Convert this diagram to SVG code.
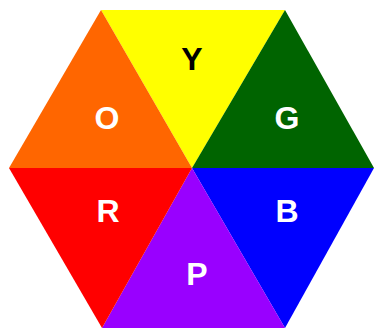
<svg xmlns="http://www.w3.org/2000/svg" width="375" height="329" viewBox="0 0 375 329">
<style>
text{font-family:"Liberation Sans",Arial,sans-serif;font-weight:bold;font-size:32px;text-anchor:middle;fill:#fff}
</style>
<rect width="375" height="329" fill="#fff"/>
<g id="yellow"><polygon points="101,10 285,10 192,168" fill="#ffff00"/><text x="192" y="70" style="fill:#000">Y</text></g>
<g id="green"><polygon points="285,10 374,168 192,168" fill="#006400"/><text x="287" y="129">G</text></g>
<g id="blue"><polygon points="374,168 285,328 192,168" fill="#0000ff"/><text x="287" y="222">B</text></g>
<g id="purple"><polygon points="285,328 102,328 192,168" fill="#9900ff"/><text x="197" y="285">P</text></g>
<g id="red"><polygon points="102,328 9,168 192,168" fill="#ff0000"/><text x="108" y="222">R</text></g>
<g id="orange"><polygon points="9,168 101,10 192,168" fill="#ff6600"/><text x="107" y="129">O</text></g>
</svg>
